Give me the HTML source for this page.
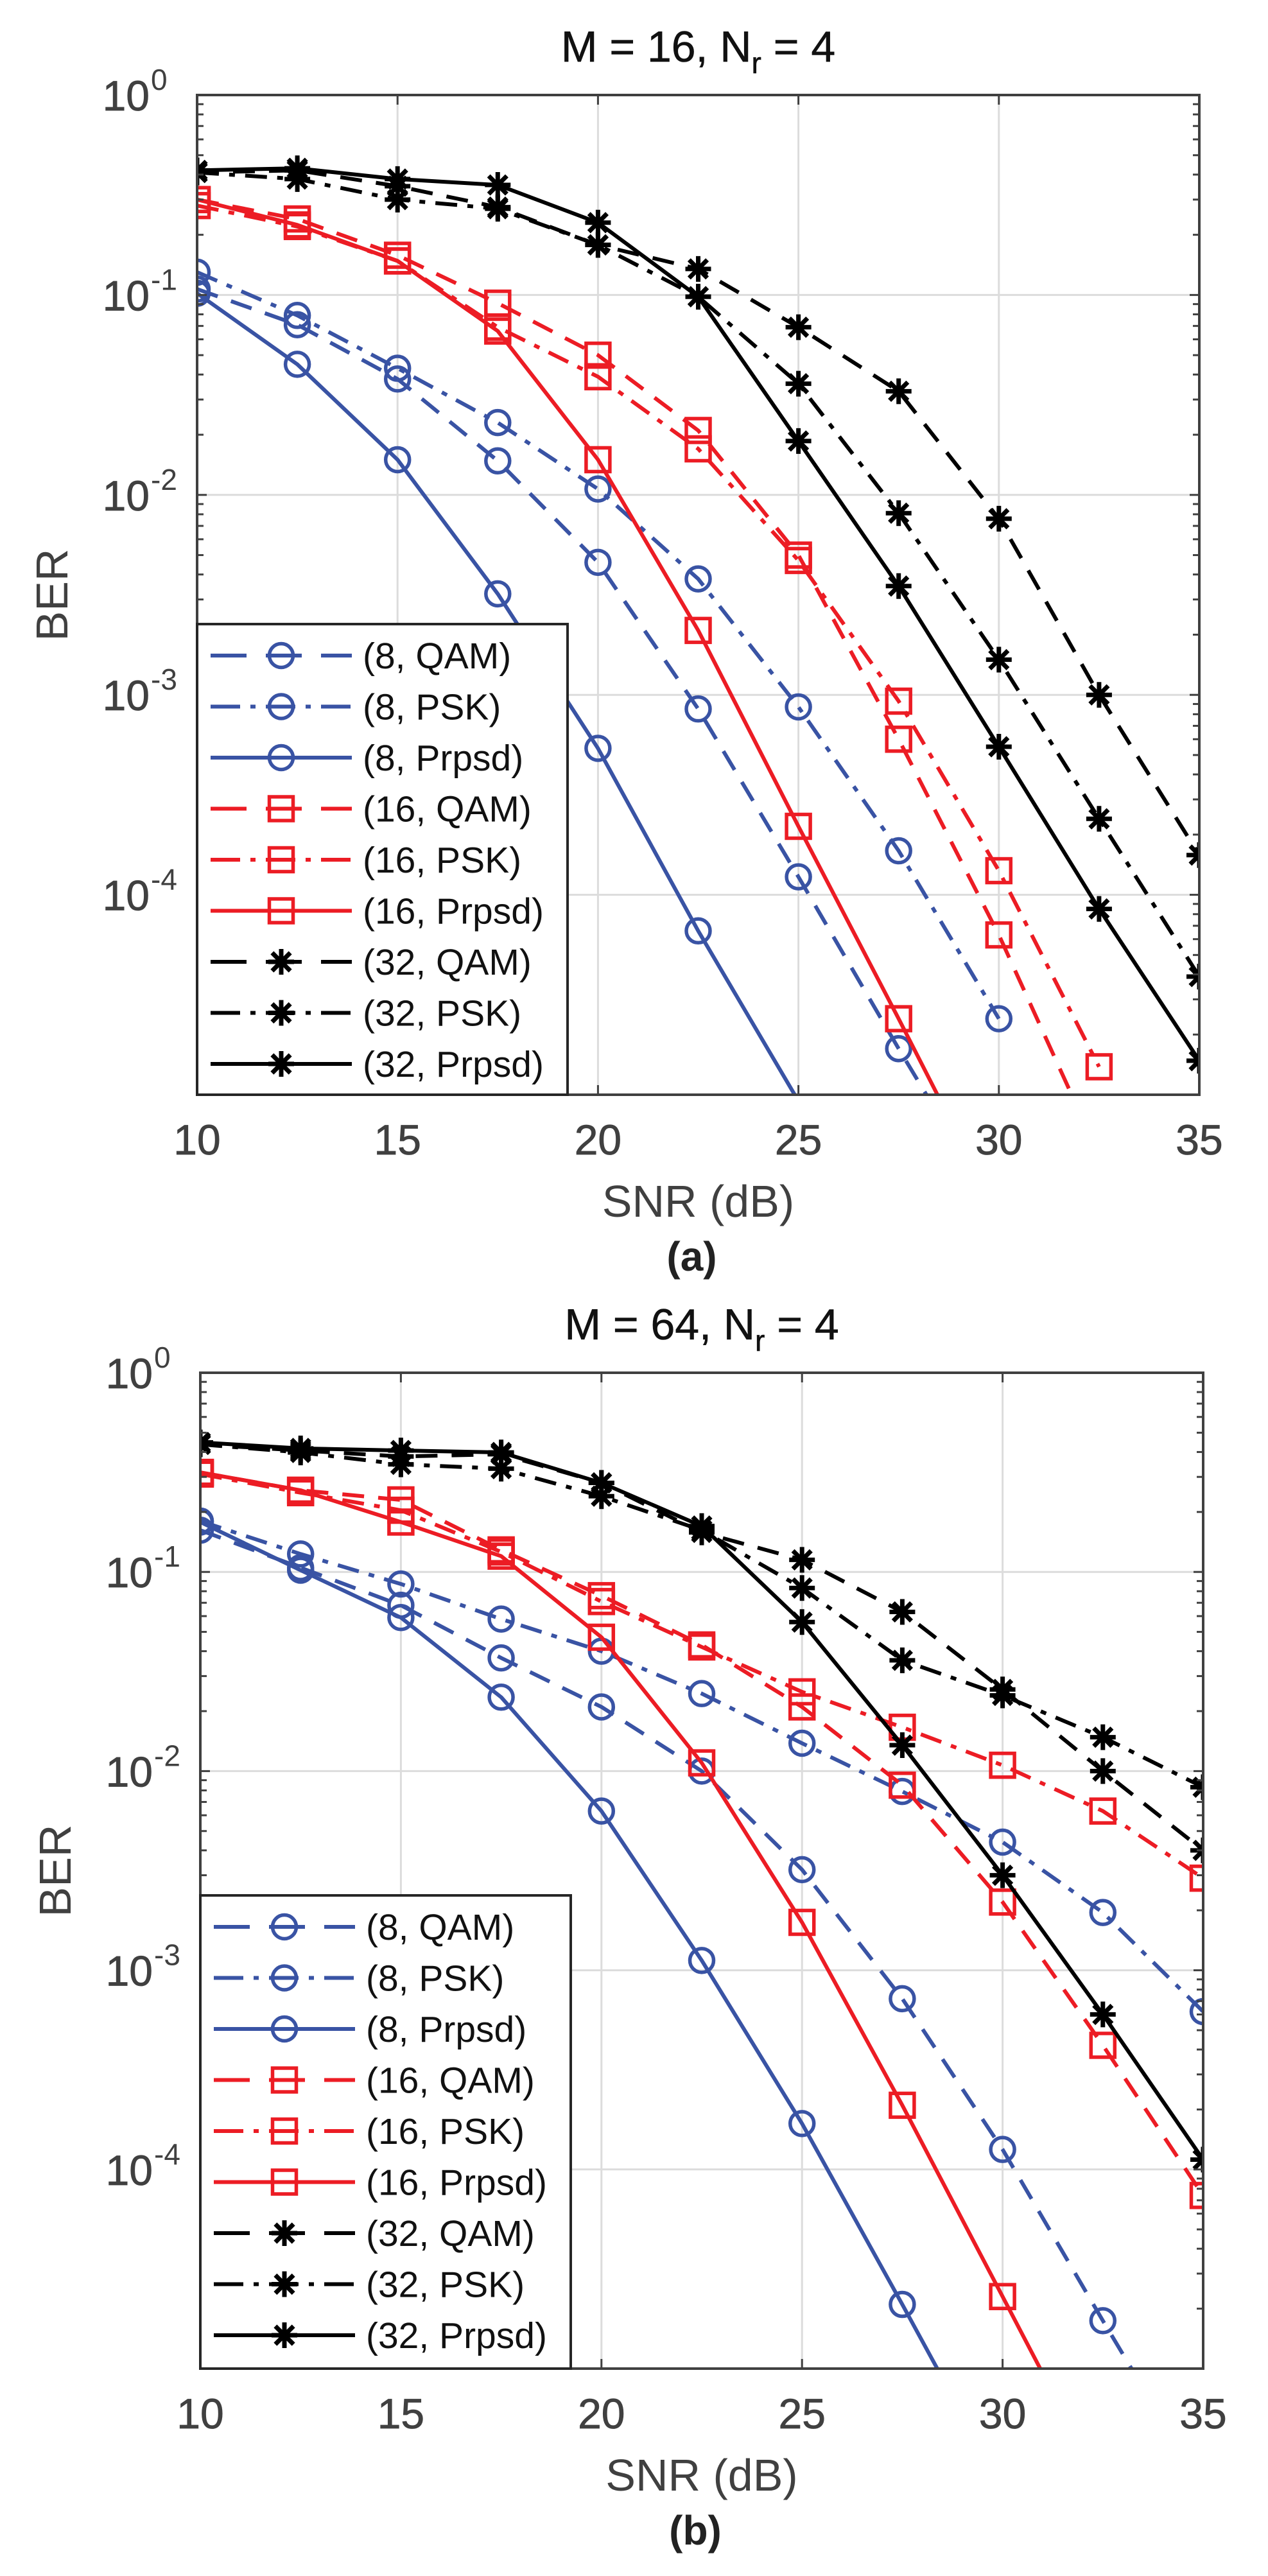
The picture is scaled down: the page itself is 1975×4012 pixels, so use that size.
<!DOCTYPE html>
<html><head><meta charset="utf-8">
<style>
html,body{margin:0;padding:0;background:#fff;}
svg{display:block;font-family:"Liberation Sans",Arial,sans-serif;}
</style></head>
<body>
<svg id="fig" width="1975" height="4012" viewBox="0 0 1975 4012" xmlns="http://www.w3.org/2000/svg"></svg>
<script>
const snr = [10,12.5,15,17.5,20,22.5,25,27.5,30,32.5,35];
const xTicks = [10,15,20,25,30,35];
const yTickExps = [0,-1,-2,-3,-4];
const legendLabels = ["(8, QAM)","(8, PSK)","(8, Prpsd)","(16, QAM)","(16, PSK)","(16, Prpsd)","(32, QAM)","(32, PSK)","(32, Prpsd)"];

// Panel (a): M = 16
const a_8qam   = [0.107,7.1e-2,3.8e-2,1.48e-2,4.6e-3,8.5e-4,1.23e-4,1.7e-5,2.5e-6];
const a_8psk   = [0.13,7.9e-2,4.3e-2,2.3e-2,1.07e-2,3.8e-3,8.7e-4,1.66e-4,2.4e-5];
const a_8prp   = [0.102,4.5e-2,1.5e-2,3.2e-3,5.4e-4,6.6e-5,9.3e-6];
const a_16qam  = [0.30,0.24,0.158,9.1e-2,5.0e-2,2.1e-2,5.0e-3,6.0e-4,6.3e-5,5e-6];
const a_16psk  = [0.28,0.22,0.148,6.9e-2,3.9e-2,1.7e-2,4.7e-3,9.3e-4,1.32e-4,1.38e-5];
const a_16prp  = [0.30,0.224,0.148,6.6e-2,1.5e-2,2.1e-3,2.2e-4,2.4e-5,2.5e-6];
const a_32qam  = [0.41,0.42,0.35,0.275,0.178,0.135,6.9e-2,3.3e-2,7.6e-3,1.0e-3,1.58e-4];
const a_32psk  = [0.41,0.38,0.30,0.27,0.178,9.8e-2,3.6e-2,8.1e-3,1.5e-3,2.4e-4,3.9e-5];
const a_32prp  = [0.42,0.43,0.38,0.355,0.23,9.8e-2,1.86e-2,3.5e-3,5.5e-4,8.5e-5,1.48e-5];

// Panel (b): M = 64
const b_8qam   = [0.162,0.105,6.8e-2,3.7e-2,2.1e-2,1.0e-2,3.2e-3,7.2e-4,1.26e-4,1.74e-5,2.5e-6];
const b_8psk   = [0.18,0.123,8.7e-2,5.8e-2,4.0e-2,2.45e-2,1.38e-2,7.9e-3,4.4e-3,1.95e-3,6.2e-4];
const b_8prp   = [0.178,0.102,5.9e-2,2.35e-2,6.3e-3,1.12e-3,1.7e-4,2.1e-5,2.5e-6];
const b_16qam  = [0.316,0.257,0.23,0.129,7.6e-2,4.3e-2,2.1e-2,8.5e-3,2.2e-3,4.2e-4,7.4e-5];
const b_16psk  = [0.31,0.25,0.204,0.126,7.1e-2,4.2e-2,2.5e-2,1.66e-2,1.07e-2,6.3e-3,2.9e-3];
const b_16prp  = [0.316,0.257,0.178,0.12,4.7e-2,1.1e-2,1.74e-3,2.1e-4,2.3e-5,2.5e-6];
const b_32qam  = [0.437,0.407,0.38,0.39,0.28,0.158,0.115,6.3e-2,2.57e-2,1.0e-2,4.0e-3];
const b_32psk  = [0.437,0.398,0.347,0.33,0.24,0.162,8.3e-2,3.6e-2,2.4e-2,1.48e-2,8.3e-3];
const b_32prp  = [0.447,0.417,0.407,0.398,0.28,0.17,5.6e-2,1.35e-2,3.0e-3,6.0e-4,1.12e-4];

const NS="http://www.w3.org/2000/svg";
const svg=document.getElementById('fig');
function el(tag,attrs,parent){const e=document.createElementNS(NS,tag);for(const k in attrs)e.setAttribute(k,attrs[k]);(parent||svg).appendChild(e);return e;}

const BLUE="#3953a4", RED="#ec1c24", BLACK="#000000";
const LW=6;
const DASH="34 22", DASHDOT="34 16 9 16";
const styles=[
 {c:BLUE,d:DASH,m:'o'},{c:BLUE,d:DASHDOT,m:'o'},{c:BLUE,d:'',m:'o'},
 {c:RED,d:DASH,m:'s'},{c:RED,d:DASHDOT,m:'s'},{c:RED,d:'',m:'s'},
 {c:BLACK,d:DASH,m:'*'},{c:BLACK,d:DASHDOT,m:'*'},{c:BLACK,d:'',m:'*'}];

function marker(g,type,x,y,color){
  if(type==='o'){return el('circle',{cx:x,cy:y,r:18.5,fill:'none',stroke:color,'stroke-width':5.5},g);}
  if(type==='s'){return el('rect',{x:x-18.5,y:y-18.5,width:37,height:37,fill:'none',stroke:color,'stroke-width':5.5},g);}
  const gg=el('g',{},g);
  const r=20;
  for(const ang of [0,45,90,135]){const t=ang*Math.PI/180;
    el('line',{x1:x-r*Math.cos(t),y1:y-r*Math.sin(t),x2:x+r*Math.cos(t),y2:y+r*Math.sin(t),stroke:color,'stroke-width':7},gg);}
  return gg;
}

function panel(P){
  const g=el('g',{});
  
  
  const L=P.left,R=P.right,T=P.top,B=P.bottom;
  const xs=v=>L+(v-10)/25*(R-L);
  const ys=v=>T+(-Math.log10(v))/5*(B-T);
  el('rect',{x:L,y:T,width:R-L,height:B-T,fill:'#fff'},g);
  const grid=el('g',{},g);
  
  
  for(const t of xTicks) el('line',{x1:xs(t),y1:T,x2:xs(t),y2:B,stroke:'#dcdcdc','stroke-width':3},grid);
  for(const e of yTickExps) el('line',{x1:L,y1:ys(Math.pow(10,e)),x2:R,y2:ys(Math.pow(10,e)),stroke:'#dcdcdc','stroke-width':3},grid);
  const cid='clip'+P.id;
  const defs=el('defs',{},g);const cp=el('clipPath',{id:cid},defs);
  el('rect',{x:L,y:T,width:R-L,height:B-T},cp);
  const sg=el('g',{'clip-path':'url(#'+cid+')'},g);
  P.series.forEach((vals,i)=>{
    const st=styles[i];
    const s=el('g',{},sg);
    
    
    const pts=vals.map((v,k)=>xs(snr[k])+','+ys(v)).join(' ');
    const pl=el('polyline',{points:pts,fill:'none',stroke:st.c,'stroke-width':LW,'stroke-linejoin':'round'},s);
    if(st.d) pl.setAttribute('stroke-dasharray',st.d);
    vals.forEach((v,k)=>{ if(v>=1e-5){ const m=marker(s,st.m,xs(snr[k]),ys(v),st.c);
      
      }});
  });
  const ax='#404040';
  el('rect',{x:L,y:T,width:R-L,height:B-T,fill:'none',stroke:ax,'stroke-width':4},g);
  for(const t of xTicks){
    el('line',{x1:xs(t),y1:B,x2:xs(t),y2:B-15,stroke:ax,'stroke-width':3},g);
    el('line',{x1:xs(t),y1:T,x2:xs(t),y2:T+15,stroke:ax,'stroke-width':3},g);
    const tx=el('text',{x:xs(t),y:B+93,'font-size':66,fill:ax,'text-anchor':'middle','stroke':ax,'stroke-width':0.8},g);
    tx.textContent=t;
    
    
  }
  for(let e=0;e>-5;e--){
    for(let m=1;m<10;m++){
      const v=m*Math.pow(10,e-1);
      const y=ys(v);
      const len=(m===1)?15:10;
      el('line',{x1:L,y1:y,x2:L+len,y2:y,stroke:ax,'stroke-width':3},g);
      el('line',{x1:R,y1:y,x2:R-len,y2:y,stroke:ax,'stroke-width':3},g);
    }
  }
  for(const e of yTickExps){
    const y=ys(Math.pow(10,e));
    const tx=el('text',{x:L-74,y:y+24,'font-size':66,fill:ax,'text-anchor':'end','stroke':ax,'stroke-width':0.8},g);
    tx.textContent='10';
    
    
    const sp=el('text',{x:L-72,y:y-8,'font-size':46,fill:ax},g);
    sp.textContent=String(e);
  }
  const yl=el('text',{x:0,y:0,'font-size':70,fill:ax,'text-anchor':'middle',transform:`translate(${L-202},${(T+B)/2}) rotate(-90)`},g);
  yl.textContent='BER';
  
  
  const xl=el('text',{x:(L+R)/2,y:B+190,'font-size':70,fill:ax,'text-anchor':'middle'},g);
  xl.textContent='SNR (dB)';
  
  
  const cap=el('text',{x:(L+R)/2-10,y:B+274,'font-size':64,'font-weight':'bold',fill:'#222','text-anchor':'middle'},g);
  cap.textContent=P.caption;
  
  
  const ti=el('text',{x:(L+R)/2,y:T-52,'font-size':68,fill:'#111','text-anchor':'middle','stroke':'#111','stroke-width':0.6},g);
  
  
  const t1=el('tspan',{},ti);t1.textContent='M = '+P.M+', N';
  const t2=el('tspan',{'font-size':46,dy:18},ti);t2.textContent='r';
  const t3=el('tspan',{dy:-18},ti);t3.textContent=' = 4';
  const lg=el('g',{},g);
  
  
  const lt=P.legTop;
  el('rect',{x:L,y:lt,width:577,height:B-lt,fill:'#fff',stroke:'#262626','stroke-width':4},lg);
  legendLabels.forEach((lab,i)=>{
    const st=styles[i];const y=lt+49+i*79.5;
    const le=el('g',{},lg);
    
    
    const ln=el('line',{x1:L+21,y1:y,x2:L+241,y2:y,stroke:st.c,'stroke-width':LW},le);
    if(st.d) ln.setAttribute('stroke-dasharray',st.d==DASH?'56 30 56 30':'46 16 8 16 46 16 8 16');
    marker(le,st.m,L+131,y,st.c);
    const tx=el('text',{x:L+258,y:y+20,'font-size':57,fill:'#111'},le);
    tx.textContent=lab;
  });
}

panel({id:'a',name:'chart-a',left:307,right:1868,top:148,bottom:1705,legTop:972,M:16,caption:'(a)',
  series:[a_8qam,a_8psk,a_8prp,a_16qam,a_16psk,a_16prp,a_32qam,a_32psk,a_32prp]});
panel({id:'b',name:'chart-b',left:312,right:1874,top:2138,bottom:3689,legTop:2952,M:64,caption:'(b)',
  series:[b_8qam,b_8psk,b_8prp,b_16qam,b_16psk,b_16prp,b_32qam,b_32psk,b_32prp]});
</script>
</body></html>
